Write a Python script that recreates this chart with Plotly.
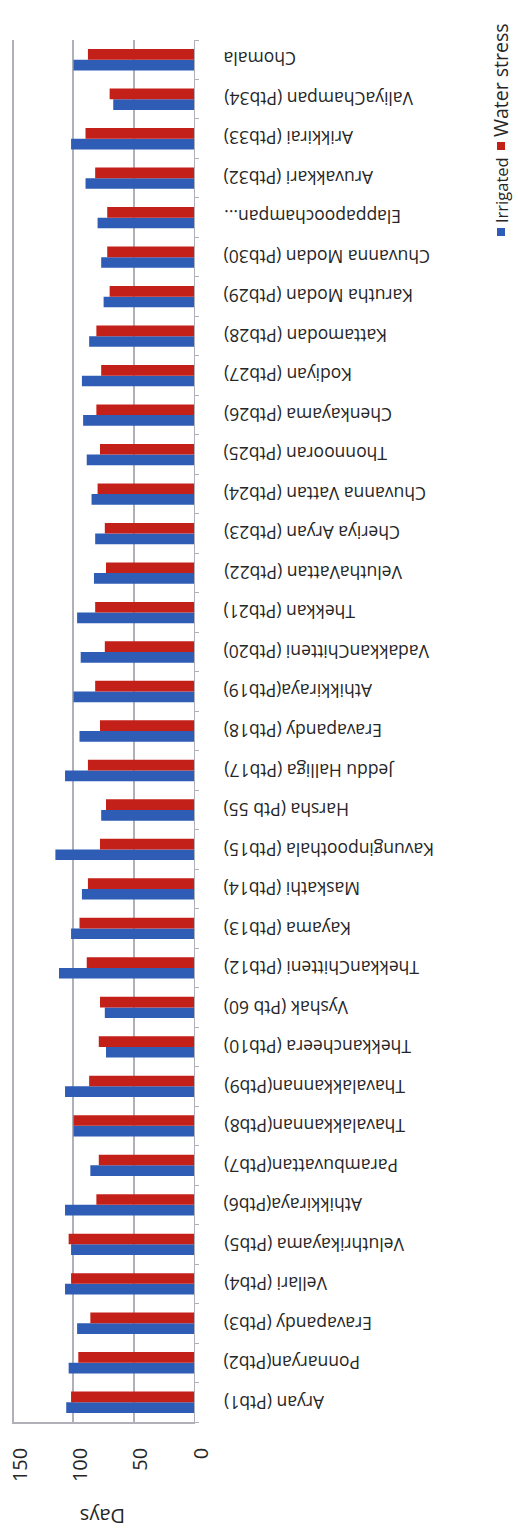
import plotly.graph_objects as go

# Rice varieties (bottom to top) and their duration in days
varieties = [
    "Aryan (Ptb1)", "Ponnaryan(Ptb2)", "Eravapandy (Ptb3)", "Vellari (Ptb4)",
    "Veluthrikayama (Ptb5)", "Athikkiraya(Ptb6)", "Parambuvattan(Ptb7)",
    "Thavalakkannan(Ptb8)", "Thavalakkannan(Ptb9)", "Thekkancheera (Ptb10)",
    "Vyshak (Ptb 60)", "ThekkanChitteni (Ptb12)", "Kayama (Ptb13)",
    "Maskathi (Ptb14)", "Kavunginpoothala (Ptb15)", "Harsha (Ptb 55)",
    "Jeddu Halliga (Ptb17)", "Eravapandy (Ptb18)", "Athikkiraya(Ptb19)",
    "VadakkanChitteni (Ptb20)", "Thekkan (Ptb21)", "VeluthaVattan (Ptb22)",
    "Cheriya Aryan (Ptb23)", "Chuvanna Vattan (Ptb24)", "Thonnooran (Ptb25)",
    "Chenkayama (Ptb26)", "Kodiyan (Ptb27)", "Kattamodan (Ptb28)",
    "Karutha Modan (Ptb29)", "Chuvanna Modan (Ptb30)", "Elappapoochampan...",
    "Aruvakkari (Ptb32)", "Arikkirai (Ptb33)", "ValiyaChampan (Ptb34)", "Chomala",
]

irrigated = [106, 104, 97, 107, 102, 107, 86, 100, 107, 73,
             74, 112, 102, 93, 115, 77, 107, 95, 100, 94,
             97, 83, 82, 85, 89, 92, 93, 87, 75, 77,
             80, 90, 102, 67, 100]

water_stress = [102, 96, 86, 102, 104, 81, 79, 100, 87, 79,
                78, 89, 95, 88, 78, 73, 88, 78, 82, 74,
                82, 73, 74, 80, 78, 81, 77, 81, 70, 72,
                72, 82, 90, 70, 88]

x_ticks = [0, 50, 100, 150]

BLUE = "#2f5db5"
RED = "#c4201a"
FONT = "Open Sans"
TEXT = "#262626"
GRID = "#b0b0b8"

W, H = 518, 1530
L, R, T, B = 12, 324, 40, 108
plot_w = W - L - R
plot_h = H - T - B


def px_x(p):
    return (p - L) / plot_w


def px_y(p):
    return (H - B - p) / plot_h


fig = go.Figure()
fig.add_trace(go.Bar(name="Irrigated", y=varieties, x=irrigated,
                     orientation="h", marker=dict(color=BLUE, line=dict(width=0))))
fig.add_trace(go.Bar(name="Water stress", y=varieties, x=water_stress,
                     orientation="h", marker=dict(color=RED, line=dict(width=0))))

annotations = []
# Category labels, upside down, next to the value axis
for v in varieties:
    annotations.append(dict(
        x=px_x(222), xref="paper", y=v, yref="y",
        xanchor="left", yanchor="middle", text=v, textangle=180,
        showarrow=False, font=dict(family=FONT, size=17.5, color=TEXT)))

# Axis title
annotations.append(dict(
    x=px_x(103), xref="paper", y=px_y(1517), yref="paper",
    xanchor="center", yanchor="middle", text="Days", textangle=180,
    showarrow=False, font=dict(family=FONT, size=20, color=TEXT)))

# Legend, reading bottom to top
shapes = []
legend_items = [("Irrigated", BLUE, 232, 16.5), ("Water stress", RED, 146, 19.5)]
for name, color, cy, fs in legend_items:
    shapes.append(dict(type="rect", xref="paper", yref="paper",
                       x0=px_x(497), x1=px_x(505),
                       y0=px_y(cy + 4), y1=px_y(cy - 4),
                       fillcolor=color, line=dict(width=0)))
    annotations.append(dict(
        x=px_x(501), xref="paper", y=px_y(cy - 7), yref="paper",
        xanchor="center", yanchor="bottom", text=name, textangle=-90,
        showarrow=False, font=dict(family=FONT, size=fs, color=TEXT)))

fig.update_layout(
    width=W, height=H,
    margin=dict(l=L, r=R, t=T, b=B, autoexpand=False),
    paper_bgcolor="white", plot_bgcolor="white",
    barmode="group", bargap=0.46, bargroupgap=0,
    showlegend=False,
    annotations=annotations, shapes=shapes,
    xaxis=dict(
        range=[151, 0], tickvals=x_ticks, ticktext=[str(t) for t in x_ticks],
        tickangle=-90, ticklabelstandoff=16, ticklabelshift=-7,
        ticklabeloverflow="allow", automargin=False,
        tickfont=dict(family=FONT, size=20, color=TEXT),
        showgrid=True, gridcolor=GRID, gridwidth=2,
        zeroline=False, showline=True, linecolor=GRID, linewidth=1.5, ticks="",
    ),
    yaxis=dict(
        side="right", categoryorder="array", categoryarray=varieties,
        showticklabels=False, ticks="outside", ticklen=4, tickcolor=GRID,
        tickson="boundaries", showline=True, linecolor=GRID,
        showgrid=False, zeroline=False, automargin=False,
    ),
)

fig.write_html("out.html")
